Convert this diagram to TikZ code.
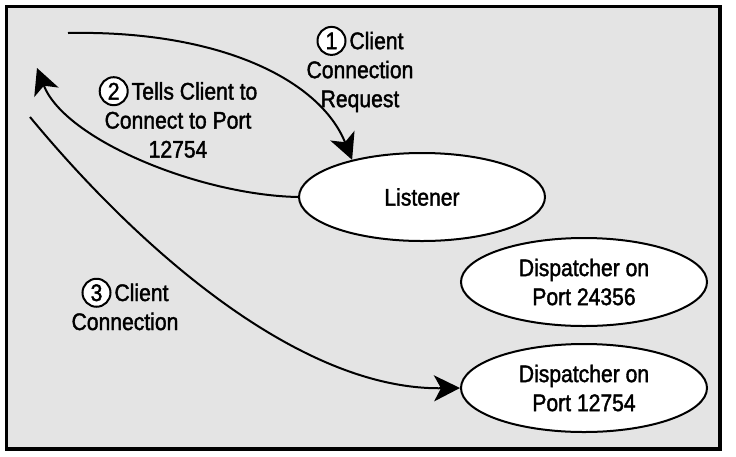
\documentclass[tikz,border=0pt]{standalone}
\usepackage{fontspec}
\setmainfont{Liberation Sans}[FakeStretch=0.88,FakeBold=1.6]
\usepackage{tikz}
\usetikzlibrary{calc,positioning,arrows.meta,shapes}
\definecolor{panelgray}{RGB}{228,228,228}
\newcommand{\stepno}[1]{\tikz[baseline=(s.base)]\node[circle,draw,line width=2pt,fill=white,inner sep=0pt,minimum size=28pt] (s) {#1};}

\begin{document}
\begin{tikzpicture}[x=1pt,y=-1pt]
			\tikzset{proc/.style={draw,ellipse,line width=2pt,fill=white,minimum width=246pt,minimum height=88pt,align=center},
				flow/.style={line width=2pt,-{Stealth[length=26pt,width=26pt,inset=7pt]}},
				every node/.append style={font=\fontsize{24}{29}\selectfont}}
			\useasboundingbox (0,0) rectangle (736,456);
			\draw [line width=3.2pt,fill=panelgray] (6.5,6.5) rectangle (720,449);
			\node [proc] (listener) at (422, 197) {Listener};
			\node [proc] (disp1) at (584, 282) {Dispatcher on\\Port 24356};
			\node [proc] (disp2) at (584, 388) {Dispatcher on\\Port 12754};
			\coordinate (reqstart) at (68, 33);
			\coordinate (telltip) at (37, 68);
			\coordinate (connstart) at (30, 117);
			\draw [flow] (reqstart) .. controls (220, 30) and (320, 80) .. (listener.152);
			\draw [flow] (listener.west) .. controls (200, 195) and (65, 140) .. (telltip);
			\draw [flow] (connstart) .. controls (140, 250) and (300, 390) .. (disp2.west);
			\node [align=center] (reqlabel) at (360, 69) {\stepno{1}\hspace{3pt}Client\\Connection\\Request};
			\node [align=center] (telllabel) at (178, 117) {\stepno{2}\hspace{3pt}Tells Client to\\Connect to Port\\12754};
			\node [align=center] (connlabel) at (125, 304) {\stepno{3}\hspace{3pt}Client\\Connection};
		\end{tikzpicture}
\end{document}
